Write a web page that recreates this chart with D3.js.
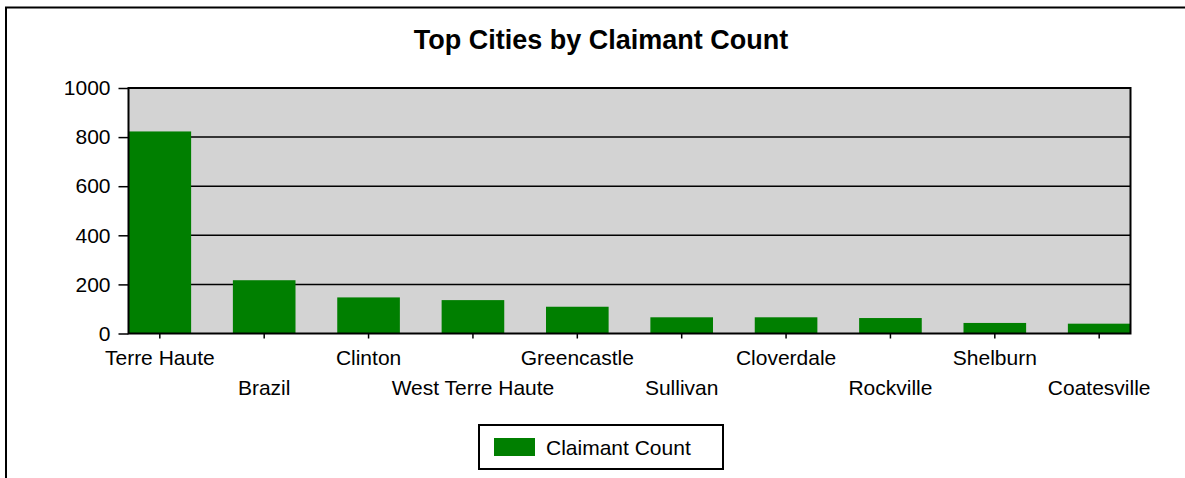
<!DOCTYPE html>
<html><head><meta charset="utf-8">
<script src="https://cdn.jsdelivr.net/npm/d3@7"></script>
<style>body{margin:0;background:#fff;overflow:hidden}svg{display:block;font-family:"Liberation Sans",Arial,sans-serif}</style>
</head><body><svg id="c" width="1185" height="478"></svg>
<script>
const cities = ["Terre Haute","Brazil","Clinton","West Terre Haute","Greencastle","Sullivan","Cloverdale","Rockville","Shelburn","Coatesville"];
const counts = [823,217,147,136,109,66,66,63,43,40];
const yTicks = [0,200,400,600,800,1000];
const title = "Top Cities by Claimant Count";
const seriesName = "Claimant Count";

const svg = d3.select("#c");
const L = 128.5, R = 1130.5, T = 88, B = 333.5;
const FS = 21;
svg.append("rect").attr("x",6).attr("y",7.5).attr("width",1300).attr("height",600)
  .attr("fill","none").attr("stroke","#000").attr("stroke-width",2);
svg.append("text").attr("x",601).attr("y",49).attr("text-anchor","middle")
  .attr("font-size",27).attr("font-weight","bold").text(title);

const x = d3.scaleBand().domain(cities).range([L,R]).paddingInner(0.4).paddingOuter(0);
const y = d3.scaleLinear().domain([0,1000]).range([B,T]);

svg.append("rect").attr("x",L).attr("y",T).attr("width",R-L).attr("height",B-T).attr("fill","#d3d3d3");
svg.append("g").selectAll("line").data(yTicks.filter(d=>d>0&&d<1000)).join("line")
  .attr("x1",L).attr("x2",R).attr("y1",d=>y(d)).attr("y2",d=>y(d)).attr("stroke","#000").attr("stroke-width",1.5);
svg.append("g").selectAll("rect").data(cities).join("rect")
  .attr("x",d=>x(d)).attr("width",x.bandwidth())
  .attr("y",(d,i)=>y(counts[i])).attr("height",(d,i)=>B-y(counts[i]))
  .attr("fill","#007f00");
svg.append("rect").attr("x",L).attr("y",T).attr("width",R-L).attr("height",B-T)
  .attr("fill","none").attr("stroke","#000").attr("stroke-width",2);

const yAxis = svg.append("g").attr("transform",`translate(${L},0)`)
  .call(d3.axisLeft(y).tickValues(yTicks).tickSize(10).tickPadding(8).tickFormat(d3.format("d")));
yAxis.select(".domain").remove();
yAxis.selectAll("line").attr("stroke","#000").attr("stroke-width",1.5);
yAxis.selectAll("text").attr("font-size",FS).attr("fill","#000").attr("font-family","Liberation Sans, Arial, sans-serif");

const xAxis = svg.append("g").attr("transform",`translate(0,${B})`)
  .call(d3.axisBottom(x).tickSize(5).tickPadding(0));
xAxis.select(".domain").remove();
xAxis.selectAll("line").attr("stroke","#000").attr("stroke-width",1.5);
xAxis.selectAll("text").attr("font-size",FS).attr("fill","#000").attr("font-family","Liberation Sans, Arial, sans-serif")
  .attr("dy",null).attr("y",(d,i)=>i%2===0?31:61);

const lg = svg.append("g");
lg.append("rect").attr("x",479).attr("y",425).attr("width",244).attr("height",44)
  .attr("fill","#fff").attr("stroke","#000").attr("stroke-width",2);
lg.append("rect").attr("x",494).attr("y",438).attr("width",41).attr("height",18).attr("fill","#007f00");
lg.append("text").attr("x",546).attr("y",455).attr("font-size",FS).text(seriesName);
</script></body></html>
